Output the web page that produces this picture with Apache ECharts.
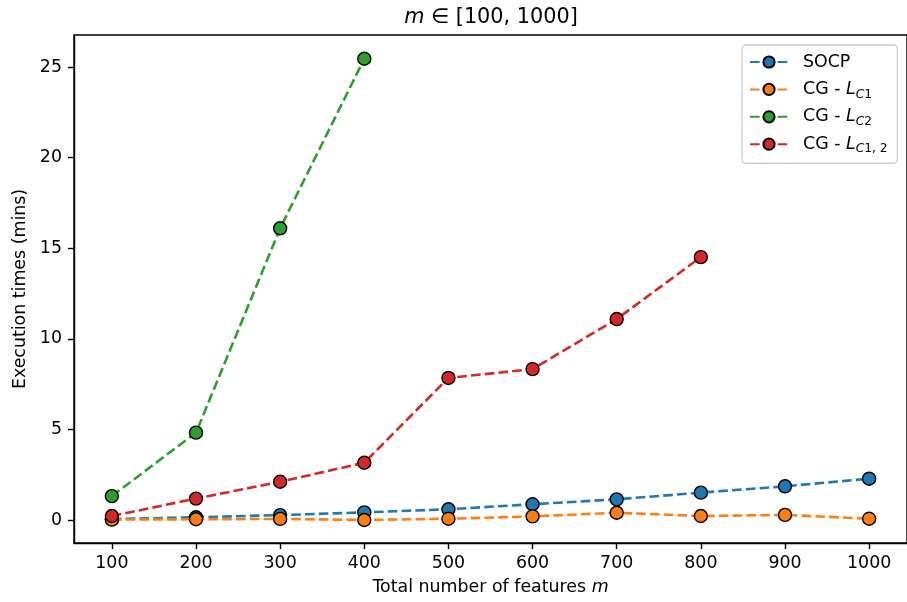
<!DOCTYPE html>
<html><head><meta charset="utf-8">
<script src="https://cdn.jsdelivr.net/npm/echarts@6/dist/echarts.min.js"></script>
<style>html,body{margin:0;padding:0;background:#fff}#c{width:907px;height:602px}</style>
</head><body><div id="c"></div>
<script>
const xValues = [100, 200, 300, 400, 500, 600, 700, 800, 900, 1000];
const socp = [0.05, 0.15, 0.27, 0.42, 0.59, 0.87, 1.14, 1.51, 1.86, 2.28];
const cgC1 = [0.02, 0.04, 0.06, 0.0, 0.07, 0.2, 0.40, 0.22, 0.28, 0.07];
const cgC2 = [1.32, 4.82, 16.1, 25.46];
const cgC12 = [0.22, 1.18, 2.11, 3.16, 7.84, 8.33, 11.09, 14.51];
const xTicks = [100, 200, 300, 400, 500, 600, 700, 800, 900, 1000];
const yTicks = [0, 5, 10, 15, 20, 25];
const seriesNames = ['SOCP', 'CG - L_C1', 'CG - L_C2', 'CG - L_C1,2'];
const legendLabels = {
  'SOCP': 'SOCP',
  'CG - L_C1': 'CG - {i|L}{si|C}{s|1}',
  'CG - L_C2': 'CG - {i|L}{si|C}{s|2}',
  'CG - L_C1,2': 'CG - {i|L}{si|C}{s|1, 2}'
};
const colors = ['#1f77b4', '#ff7f0e', '#2ca02c', '#d62728'];
const FONT = 'DejaVu Sans';
const FS = 17.4;
const LH = 22;

function pairs(vals) { return vals.map((v, i) => [xValues[i], v]); }
const allData = [socp, cgC1, cgC2, cgC12];

const chart = echarts.init(document.getElementById('c'), null, {renderer: 'canvas'});
const richSub = {
  i: {fontFamily: FONT, fontSize: FS, fontStyle: 'italic', color: '#000', lineHeight: LH},
  si: {fontFamily: FONT, fontSize: 12.2, fontStyle: 'italic', color: '#000', lineHeight: 13, verticalAlign: 'bottom'},
  s: {fontFamily: FONT, fontSize: 12.2, color: '#000', lineHeight: 13, verticalAlign: 'bottom'}
};
chart.setOption({
  animation: false,
  backgroundColor: '#fff',
  textStyle: {fontFamily: FONT},
  graphic: [{
    type: 'text', x: 491, y: 18,
    style: {
      text: '{i|m} ∈ [100, 1000]',
      fontFamily: FONT, fontSize: 20.8, fill: '#000',
      align: 'center', verticalAlign: 'middle',
      rich: {i: {fontFamily: FONT, fontSize: 20.8, fontStyle: 'italic', color: '#000'}}
    }
  }],
  grid: {left: 74, top: 35, width: 834, height: 508, show: true, borderColor: '#000', borderWidth: 1.4, containLabel: false},
  xAxis: {
    type: 'value', min: 55, max: 1045,
    name: 'Total number of features {i|m}', nameLocation: 'middle', nameGap: 36,
    nameTextStyle: {fontFamily: FONT, fontSize: FS, color: '#000',
      rich: {i: {fontFamily: FONT, fontSize: FS, fontStyle: 'italic', color: '#000'}}},
    splitLine: {show: false},
    axisLine: {show: true, onZero: false, lineStyle: {color: '#000', width: 1.4}},
    axisTick: {show: true, inside: false, length: 6, customValues: xTicks, lineStyle: {color: '#000', width: 1.4}},
    axisLabel: {customValues: xTicks, fontFamily: FONT, fontSize: FS, color: '#000', margin: 12,
      formatter: v => String(v)}
  },
  yAxis: {
    type: 'value', min: -1.27, max: 26.77,
    name: 'Execution times (mins)', nameLocation: 'middle', nameGap: 45,
    nameTextStyle: {fontFamily: FONT, fontSize: FS, color: '#000'},
    splitLine: {show: false},
    axisLine: {show: true, onZero: false, lineStyle: {color: '#000', width: 1.4}},
    axisTick: {show: true, inside: false, length: 6, customValues: yTicks, lineStyle: {color: '#000', width: 1.4}},
    axisLabel: {customValues: yTicks, fontFamily: FONT, fontSize: FS, color: '#000', margin: 12,
      formatter: v => String(v)}
  },
  legend: {
    orient: 'vertical', left: 742, top: 45,
    itemWidth: 38, itemHeight: 14, itemGap: 5.4,
    padding: [6, 10, 8, 7],
    backgroundColor: '#fff', borderColor: '#cccccc', borderWidth: 1.4, borderRadius: 4,
    data: seriesNames,
    formatter: name => legendLabels[name],
    textStyle: {fontFamily: FONT, fontSize: FS, color: '#000', lineHeight: LH, padding: [0, 0, 0, 10], rich: richSub}
  },
  series: seriesNames.map((n, k) => ({
    name: n, type: 'line', data: pairs(allData[k]),
    symbol: 'circle', symbolSize: 13,
    lineStyle: {color: colors[k], width: 2.6, type: [9.6, 4.2]},
    itemStyle: {color: colors[k], borderColor: '#000', borderWidth: 1.4},
    emphasis: {disabled: true}
  }))
});
</script></body></html>
